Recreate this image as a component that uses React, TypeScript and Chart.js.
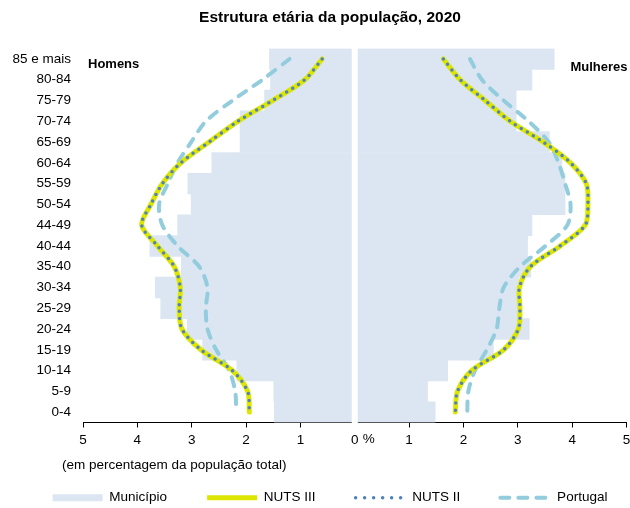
import { useEffect, useRef } from 'react';
import { Chart, registerables } from 'chart.js';

Chart.register(...registerables);

const FONT = '"Liberation Sans", Arial, Helvetica, sans-serif';

const titleText = 'Estrutura etária da população, 2020';
const axisNote = '(em percentagem da população total)';
const leftLabel = 'Homens';
const rightLabel = 'Mulheres';

const ageGroups = [
  '85 e mais', '80-84', '75-79', '70-74', '65-69', '60-64', '55-59', '50-54', '44-49',
  '40-44', '35-40', '30-34', '25-29', '20-24', '15-19', '10-14', '5-9', '0-4',
];

const xTicks = [-5, -4, -3, -2, -1, 0, 1, 2, 3, 4, 5];

// Município (bars)
const municipioHomens = [1.57, 1.55, 1.66, 2.11, 2.11, 2.63, 3.07, 3.01, 3.26, 3.77, 3.19, 3.67, 3.57, 3.08, 2.80, 2.17, 1.49, 1.48];
const municipioMulheres = [3.67, 3.26, 2.97, 2.97, 3.58, 3.81, 3.87, 3.87, 3.26, 3.18, 3.24, 3.02, 3.03, 3.21, 2.55, 1.71, 1.34, 1.48];

// NUTS III
const nuts3Homens = [0.60, 0.92, 1.51, 2.15, 2.68, 3.20, 3.54, 3.75, 3.92, 3.63, 3.32, 3.21, 3.23, 3.18, 2.83, 2.25, 1.97, 1.94];
const nuts3Mulheres = [1.63, 1.94, 2.40, 2.86, 3.47, 3.97, 4.26, 4.29, 4.24, 3.78, 3.23, 3.03, 3.04, 3.01, 2.74, 2.15, 1.89, 1.85];

// NUTS II
const nuts2Homens = [0.60, 0.92, 1.51, 2.15, 2.68, 3.20, 3.54, 3.75, 3.92, 3.63, 3.32, 3.21, 3.23, 3.18, 2.83, 2.25, 1.97, 1.94];
const nuts2Mulheres = [1.63, 1.94, 2.40, 2.86, 3.47, 3.97, 4.26, 4.29, 4.24, 3.78, 3.23, 3.03, 3.04, 3.01, 2.74, 2.15, 1.89, 1.85];

// Portugal
const portugalHomens = [1.20, 1.70, 2.25, 2.74, 3.01, 3.26, 3.44, 3.60, 3.54, 3.26, 2.86, 2.71, 2.74, 2.71, 2.55, 2.31, 2.20, 2.18];
const portugalMulheres = [2.12, 2.34, 2.74, 3.20, 3.57, 3.75, 3.87, 3.97, 3.91, 3.51, 3.04, 2.74, 2.66, 2.61, 2.43, 2.21, 2.09, 2.07];

const COLORS = {
  municipio: '#dce6f2',
  nuts3: '#dde600',
  nuts2: '#4f81bd',
  portugal: '#93cddd',
};

const legendStyles: Record<string, any> = {
  'Município': { strokeStyle: COLORS.municipio, lineWidth: 7, lineDash: [], lineCap: 'butt' },
  'NUTS III': { strokeStyle: COLORS.nuts3, lineWidth: 5, lineDash: [], lineCap: 'butt' },
  'NUTS II': { strokeStyle: COLORS.nuts2, lineWidth: 3.5, lineDash: [0, 9], lineCap: 'round' },
  'Portugal': { strokeStyle: COLORS.portugal, lineWidth: 4, lineDash: [9, 9], lineCap: 'round' },
};

const neg = (a: number[]) => a.map((v) => -v);

const decorPlugin = {
  id: 'decor',
  afterDatasetsDraw(chart: any) {
    const { ctx, chartArea } = chart;
    const x = chart.scales.x;
    const zero = x.getPixelForValue(0);
    ctx.save();
    ctx.fillStyle = '#ffffff';
    ctx.fillRect(zero - 3, chartArea.top - 1, 6, chartArea.bottom - chartArea.top + 8);
    ctx.restore();
  },
  afterDraw(chart: any) {
    const { ctx, chartArea } = chart;
    const x = chart.scales.x;
    const zero = x.getPixelForValue(0);
    ctx.save();
    ctx.fillStyle = '#000';
    ctx.textBaseline = 'middle';
    ctx.font = `bold 13px ${FONT}`;
    ctx.textAlign = 'left';
    ctx.fillText(leftLabel, chartArea.left + 5, chartArea.top + 16);
    ctx.textAlign = 'right';
    ctx.fillText(rightLabel, chartArea.right + 1, chartArea.top + 19);
    ctx.font = `13.5px ${FONT}`;
    ctx.textAlign = 'left';
    ctx.fillText('%', zero + 8, x.top + 17);
    ctx.fillText(axisNote, chartArea.left - 21, chartArea.bottom + 43);
    ctx.restore();
  },
};

export default function App() {
  const ref = useRef<HTMLCanvasElement>(null);

  useEffect(() => {
    const canvas = ref.current;
    if (!canvas) return;

    const lineBase = {
      type: 'line' as const,
      indexAxis: 'y' as const,
      fill: false,
      pointRadius: 0,
      pointHoverRadius: 0,
      tension: 0.3,
    };
    const barBase = {
      type: 'bar' as const,
      backgroundColor: COLORS.municipio,
      borderWidth: 0,
      grouped: false,
      categoryPercentage: 1,
      barPercentage: 1,
      order: 3,
    };
    const n3 = { ...lineBase, borderColor: COLORS.nuts3, borderWidth: 5, borderCapStyle: 'round', borderJoinStyle: 'round', order: 1 };
    const n2 = { ...lineBase, borderColor: COLORS.nuts2, borderWidth: 3.5, borderDash: [0, 7], borderCapStyle: 'round', order: 0 };
    const pt = { ...lineBase, borderColor: COLORS.portugal, borderWidth: 4, borderDash: [9, 9], borderCapStyle: 'round', order: 2 };

    const chart = new Chart(canvas, {
      type: 'bar',
      data: {
        labels: ageGroups,
        datasets: [
          { ...barBase, label: 'Município', data: neg(municipioHomens) },
          { ...barBase, label: 'Município', data: municipioMulheres },
          { ...n3, label: 'NUTS III', data: neg(nuts3Homens) },
          { ...n3, label: 'NUTS III', data: nuts3Mulheres },
          { ...n2, label: 'NUTS II', data: neg(nuts2Homens) },
          { ...n2, label: 'NUTS II', data: nuts2Mulheres },
          { ...pt, label: 'Portugal', data: neg(portugalHomens) },
          { ...pt, label: 'Portugal', data: portugalMulheres },
        ] as any,
      },
      options: {
        indexAxis: 'y',
        animation: false,
        responsive: false,
        devicePixelRatio: 1,
        events: [],
        layout: { padding: { left: 0, right: -30, top: 8, bottom: -6.5 } },
        scales: {
          x: {
            type: 'linear',
            min: -5,
            max: 5,
            afterBuildTicks: (scale: any) => {
              scale.ticks = xTicks.map((v) => ({ value: v }));
            },
            afterFit: (scale: any) => {
              scale.height = 28.5;
              scale.paddingRight = 0;
              scale.paddingLeft = 0;
            },
            grid: {
              drawOnChartArea: false,
              drawTicks: true,
              tickLength: 5,
              tickColor: '#000',
              lineWidth: 1,
            },
            border: { display: true, color: '#000', width: 1 },
            ticks: {
              color: '#000',
              font: { family: FONT, size: 13.5 },
              padding: 5,
              maxRotation: 0,
              autoSkip: false,
              callback: (v: any) => String(Math.abs(Number(v))),
            },
          },
          y: {
            type: 'category',
            afterFit: (scale: any) => {
              scale.width = 83;
            },
            grid: { display: false, drawTicks: false },
            border: { display: false },
            ticks: {
              color: '#000',
              font: { family: FONT, size: 13.5 },
              padding: 12,
              autoSkip: false,
            },
          },
          yRight: {
            type: 'linear',
            axis: 'y',
            position: 'right',
            display: true,
            afterFit: (scale: any) => {
              scale.width = 33.5;
            },
            grid: { display: false, drawTicks: false },
            border: { display: false },
            ticks: { display: false },
          },
        },
        plugins: {
          title: {
            display: true,
            text: titleText,
            color: '#000',
            font: { family: FONT, size: 15.5, weight: 'bold' },
            padding: { top: 0, bottom: 22 },
          },
          legend: {
            display: true,
            position: 'bottom',
            labels: {
              usePointStyle: true,
              pointStyleWidth: 50,
              padding: 40,
              color: '#000',
              font: { family: FONT, size: 13.5 },
              generateLabels: (chart: any) =>
                chart.data.datasets
                  .map((ds: any, i: number) => ({
                    text: ds.label,
                    fillStyle: 'rgba(0,0,0,0)',
                    fontColor: '#000',
                    hidden: false,
                    pointStyle: 'line',
                    rotation: 0,
                    datasetIndex: i,
                    ...legendStyles[ds.label],
                  }))
                  .filter((_: any, i: number) => i % 2 === 0),
            },
          },
          tooltip: { enabled: false },
        },
      } as any,
      plugins: [decorPlugin],
    });

    return () => chart.destroy();
  }, []);

  return (
    <div style={{ position: 'absolute', left: 0, top: 0, width: 630, height: 508, background: '#fff', overflow: 'hidden' }}>
      <canvas ref={ref} width={630} height={508} style={{ display: 'block', width: 630, height: 508 }} />
    </div>
  );
}
